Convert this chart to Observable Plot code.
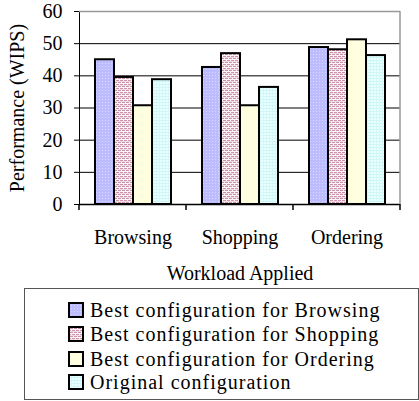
<!DOCTYPE html>
<html>
<head>
<meta charset="utf-8">
<script src="https://cdn.jsdelivr.net/npm/d3@7"></script>
<script src="https://cdn.jsdelivr.net/npm/@observablehq/plot@0.6"></script>
<style>
  html, body { margin: 0; padding: 0; background: #fff; }
  #wrap { position: relative; width: 419px; height: 401px; font-family: "Times New Roman", "Liberation Serif", Tinos, "Noto Serif", "DejaVu Serif", serif; }
  #wrap svg text { font-family: "Times New Roman", "Liberation Serif", Tinos, "Noto Serif", "DejaVu Serif", serif; }
  #legend {
    position: absolute; left: 24px; top: 288px; width: 395px; height: 112px;
    box-sizing: border-box; border: 1.5px solid #555; background: #fff;
  }
  .item { position: absolute; left: 43px; height: 24px; display: flex; align-items: center;
    font-size: 20px; letter-spacing: 1px; color: #000; white-space: nowrap; }
  .item svg { margin-right: 6px; flex: none; }
</style>
</head>
<body>
<div id="wrap"></div>
<script>
// Workloads on the x axis and the four server configurations compared
const workloads = ["Browsing", "Shopping", "Ordering"];
const configs = [
  "Best configuration for Browsing",
  "Best configuration for Shopping",
  "Best configuration for Ordering",
  "Original configuration"
];
// Throughput (WIPS) per workload, one array per configuration
const bestBrowsing = [45.0, 42.6, 48.8];
const bestShopping = [39.5, 46.9, 48.1];
const bestOrdering = [30.7, 30.7, 51.2];
const original     = [38.8, 36.4, 46.3];
const yTicks = [0, 10, 20, 30, 40, 50, 60];
const gridTicks = [10, 20, 30, 40, 50];

const series = [bestBrowsing, bestShopping, bestOrdering, original];
const rows = [];
workloads.forEach((w, i) => configs.forEach((c, j) => rows.push({workload: w, config: c, value: series[j][i]})));

const patternIds = ["pBrowse", "pShop", "pOrder", "pOrig"];
const fills = patternIds.map(id => `url(#${id})`);

const serif = "'Times New Roman', 'Liberation Serif', Tinos, 'Noto Serif', 'DejaVu Serif', serif";

const plot = Plot.plot({
  width: 419,
  height: 288,
  marginLeft: 79,
  marginRight: 19,
  marginTop: 11,
  marginBottom: 84,
  style: {fontFamily: serif, fontSize: "20px", color: "#000", background: "#fff", overflow: "visible"},
  fx: {domain: workloads, padding: 0, label: "Workload Applied", labelAnchor: "center", tickSize: 0, tickPadding: 25, labelOffset: 75},
  x: {domain: configs, axis: null, paddingInner: 0, paddingOuter: 0.71},
  y: {domain: [0, 60], ticks: yTicks, tickSize: 5, tickPadding: 12, label: "Performance (WIPS)", labelAnchor: "center", labelArrow: "none", labelOffset: 70, line: true},
  color: {domain: configs, range: fills},
  marks: [
    Plot.gridY(gridTicks, {stroke: "#000", strokeOpacity: 1, strokeWidth: 1}),
    Plot.ruleY([60], {stroke: "#999", strokeWidth: 1.5}),
    Plot.barY(rows, {fx: "workload", x: "config", y: "value", fill: "config", stroke: "#000", strokeWidth: 2}),
    Plot.ruleY([0], {stroke: "#000", strokeWidth: 1.5})
  ]
});

// Fill patterns for the bars and legend swatches
d3.select(plot).insert("defs", ":first-child").html(`
  <pattern id="pBrowse" width="3" height="3" patternUnits="userSpaceOnUse">
    <rect width="3" height="3" fill="#bcbcff"/><rect width="1" height="1" fill="#d8d8ff"/>
  </pattern>
  <pattern id="pShop" width="4" height="4" patternUnits="userSpaceOnUse">
    <rect width="4" height="4" fill="#fbf4f7"/>
    <rect x="0" y="0" width="3" height="1" fill="#cc93ab"/>
    <rect x="2" y="2" width="3" height="1" fill="#cc93ab"/>
    <rect x="-2" y="2" width="3" height="1" fill="#cc93ab"/>
    <rect x="0" y="1" width="4" height="1" fill="#f0dde5"/>
  </pattern>
  <pattern id="pOrder" width="4" height="4" patternUnits="userSpaceOnUse">
    <rect width="4" height="4" fill="#ffffe0"/>
  </pattern>
  <pattern id="pOrig" width="3" height="3" patternUnits="userSpaceOnUse">
    <rect width="3" height="3" fill="#eaffff"/><rect width="3" height="1" fill="#ccf6f6"/><rect width="1" height="3" fill="#d4f8f8"/>
  </pattern>`);

// Plot frame: right border and category separator ticks on the x axis
const fx = plot.scale("fx");
const y = plot.scale("y");
const y0 = y.apply(0), yTop = y.apply(60);
const xRight = fx.apply(workloads[workloads.length - 1]) + fx.bandwidth;
const g = d3.select(plot).append("g");
g.append("line").attr("x1", xRight).attr("x2", xRight).attr("y1", yTop).attr("y2", y0)
  .attr("stroke", "#999").attr("stroke-width", 1.5);
const edges = workloads.map(w => fx.apply(w)).concat([xRight]);
g.selectAll(".sep").data(edges).join("line")
  .attr("x1", d => d).attr("x2", d => d).attr("y1", y0).attr("y2", y0 + 6)
  .attr("stroke", "#000").attr("stroke-width", 1.5);

const wrap = document.getElementById("wrap");
wrap.appendChild(plot);

// Legend box below the chart
const legend = document.createElement("div");
legend.id = "legend";
const rowTops = [9, 33, 58, 81];
configs.forEach((c, i) => {
  const item = document.createElement("div");
  item.className = "item";
  item.style.top = rowTops[i] + "px";
  item.innerHTML = `<svg width="16" height="16"><rect x="1" y="1" width="14" height="14" fill="${fills[i]}" stroke="#000" stroke-width="2"/></svg><span>${c}</span>`;
  legend.appendChild(item);
});
wrap.appendChild(legend);
</script>
</body>
</html>
